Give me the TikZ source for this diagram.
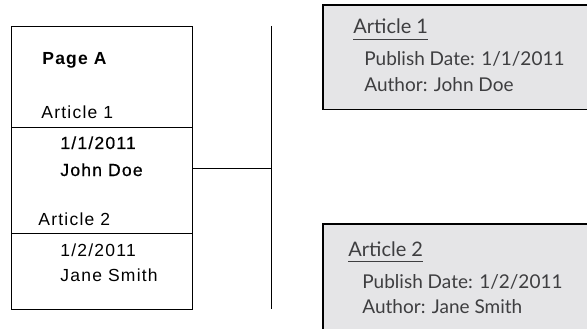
\documentclass[tikz,border=0pt]{standalone}
\usepackage{fontspec}
\setmainfont{Liberation Sans}
\newfontfamily\pagefont[LetterSpace=7]{Liberation Sans}
\newfontfamily\pagefontdark[LetterSpace=7,FakeBold=0.6]{Liberation Sans}
\newfontfamily\cardfont{Lato}
\usetikzlibrary{positioning}

\definecolor{cardfill}{RGB}{229,229,231}
\definecolor{cardline}{RGB}{70,70,72}
\definecolor{cardtext}{RGB}{62,62,64}

\begin{document}
\begin{tikzpicture}[x=1pt,y=-1pt,thick,
                    section/.style={draw,line width=1pt,minimum width=181pt,anchor=north west,inner sep=0pt},
                    pagetext/.style={anchor=base west,inner sep=0pt,font=\pagefont\fontsize{17.5}{19}\selectfont},
                    card/.style={fill=cardfill,anchor=north west,minimum width=264pt,inner sep=0pt},
                    cardtitle/.style={anchor=base west,inner sep=0pt,text=cardtext,font=\cardfont\fontsize{20}{22}\selectfont},
                    cardline/.style={anchor=base west,inner sep=0pt,text=cardtext,font=\cardfont\fontsize{19}{21}\selectfont}
                    ]
  \useasboundingbox (0,0) rectangle (587,329);

  % the page with its two article sections
  \node[section,minimum height=101pt] (top) at (11,26) {};
  \node[section,minimum height=106pt] (sec1) at (11,127) {};
  \node[section,minimum height=76pt] (sec2) at (11,233) {};

  \node[pagetext] (title) at (42,65) {\bfseries Page\ A};
  \node[pagetext] (art1) at (41,118) {Article 1};
  \node[pagetext] (date1) at (60,149) {\pagefontdark 1/1/2011};
  \node[pagetext] (name1) at (60,176) {\pagefontdark John\ Doe};
  \node[pagetext] (art2) at (38,225) {Article 2};
  \node[pagetext] (date2) at (60,256) {1/2/2011};
  \node[pagetext] (name2) at (60,281) {Jane\ Smith};

  % separator and link
  \coordinate (vtop) at (271,26);
  \coordinate (vbot) at (271,309);
  \coordinate (join) at (271,168);
  \draw[line width=1pt] (vtop) -- (vbot);
  \draw[line width=1pt] (sec1.east |- join) -- (join);

  % article cards
  \node[card,minimum height=104pt] (card1) at (323,5) {};
  \draw[cardline,line width=1.2pt] (card1.north east) -- (card1.north west)
    -- (card1.south west) -- (card1.south east);
  \node[card,minimum height=105pt] (card2) at (323,224) {};
  \draw[cardline,line width=1.2pt] (card2.north east) -- (card2.north west)
    -- (card2.south west);

  \node[cardtitle] (head1) at (353,34) {Article 1};
  \draw[cardtext,line width=0.8pt] ([yshift=-5pt]head1.base west) -- ([yshift=-5pt]head1.base east);
  \node[cardline] (pub1) at (364,66) {Publish Date: 1/1/2011};
  \node[cardline] (auth1) at (364,92) {Author: John Doe};

  \node[cardtitle] (head2) at (348,256) {Article 2};
  \draw[cardtext,line width=0.8pt] ([yshift=-5pt]head2.base west) -- ([yshift=-5pt]head2.base east);
  \node[cardline] (pub2) at (362,288) {Publish Date: 1/2/2011};
  \node[cardline] (auth2) at (362,313) {Author: Jane Smith};
\end{tikzpicture}
\end{document}
